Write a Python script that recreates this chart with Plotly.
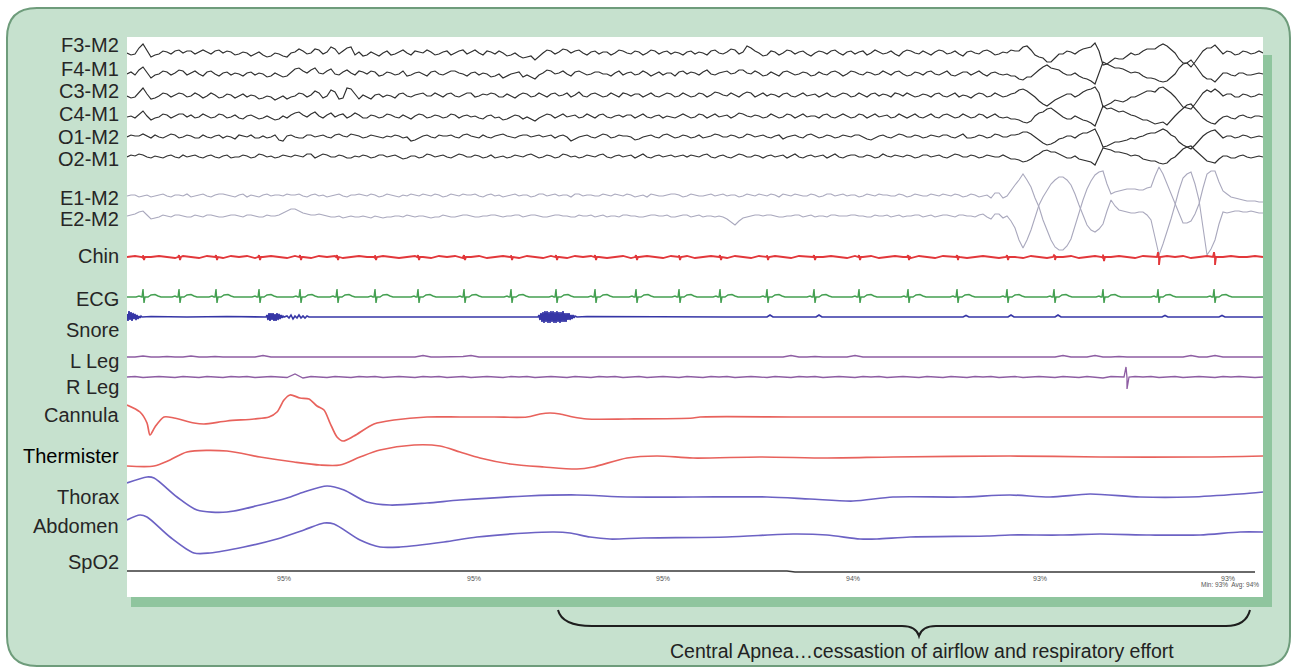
import plotly.graph_objects as go

# ======================= DATA =======================
# digitised traces: deflection in px units (positive = upward)
# main samples every 8 time units, "mid" samples halfway between them
GRID_STEP = 8
N_GRID = 143
grid_t = [i * GRID_STEP for i in range(N_GRID)]

eeg_F3 = [0, -1, 9, -4, -1, 1, 2, 0, 2, 1,
          1, 2, 0, 1, -1, 0, -1, -2, -3, -1,
          -4, 1, 2, 0, 3, 1, 4, 2, 6, 1,
          -2, -1, 0, -2, 1, 0, 2, 0, 1, -1,
          2, 0, 3, 1, 0, 2, -1, 0, -2, -3,
          -4, -7, 0, 2, 1, 3, 2, 0, 1, -1,
          1, 0, 2, -1, 1, 0, 2, 1, -1, 0,
          1, -1, 0, 2, 0, 1, 3, 1, 5, 0,
          -2, 1, 0, 2, 1, -1, 0, 1, 2, 0,
          1, -1, 2, 0, 1, 0, -1, 1, 2, -1,
          0, 1, 2, 0, -1, 1, 0, 2, 1, -1,
          0, 2, 6, 3, -4, -9, -5, -1, 1, 2, 5, 10, -12, -8, -6, -3, -2, 2, 4, 7, 7, 0,
          -10, -14, -3, 5, 8, -1, 1, -1, 1, 0, 0]
eeg_F3_mid = [-2, 5, 3, -2, 2, -1, 3, 2, -1, 3,
              -1, 3, 2, -2, 1, -3, 1, -4, 0, -3,
              0, 4, -1, 4, -1, 6, -1, 5, -2, -3,
              1, -3, 2, -1, 3, -2, 1, 3, -2, 1,
              -2, 2, -1, 3, -2, 1, 2, -3, 0, -5,
              -3, -3, 3, -1, 4, 0, 3, -2, 2, 1,
              -2, 3, 0, 2, -2, 3, -1, 2, 1, -2,
              2, 1, -2, 3, -1, 4, -1, 7, 2, -3,
              2, -2, 3, -1, 2, -3, 2, -1, 3, -2,
              2, 1, -2, 3, -1, 2, -3, 3, 0, 2,
              -2, 3, -1, 2, -3, 2, -1, 3, -2, 1,
              3, 2, 7, -2, -5, -9, -1, 2, -1, 4, 6, 2, -11, -5, -6, 0, -1, 4, 4, 9, 3, -6,
              -10, -9, 2, 5, 3, 2, -2, 2, -1, 2]
eeg_F4 = [0, -1, 7, -4, 0, 2, 1, 3, 1, 0,
          2, 0, 1, -1, 0, 1, -1, 0, -2, -1,
          -2, 5, 3, 4, 1, 3, 0, 2, 1, 3,
          0, 2, -1, 1, 0, -2, 1, 0, 2, 0,
          1, 3, 0, 1, -1, 0, -2, -4, 0, 2,
          -1, -5, 1, 3, 1, 0, 2, 1, 0, 2,
          0, 1, -1, 2, 0, 1, 0, -1, 1, 2,
          0, 1, 2, 0, 1, 3, 1, 4, 0, 1,
          -1, 0, 2, 1, 0, 1, -1, 0, 2, 1,
          0, 2, -1, 1, 0, 1, 2, 0, -1, 1,
          2, 0, 1, -1, 0, 2, 1, 0, 1, 0,
          0, -2, -6, -3, 4, 9, 5, 1, -1, -2, -5, -10, 12, 8, 6, 3, 2, -2, -4, -7, -7, 0,
          10, 14, 3, -5, -8, 1, -1, 1, -1, 0, 0]
eeg_F4_mid = [2, 4, 2, -1, 3, -1, 4, -1, 3, -2,
              3, -2, 2, 1, -2, 2, 1, -3, 1, -3,
              2, 6, 1, 6, 0, 5, -1, 4, -1, 2,
              3, -2, 2, -1, 3, -1, 2, -2, 3, -1,
              3, 1, -2, 2, 1, -3, 0, -2, 1, -3,
              -3, -1, 4, 0, 3, -2, 3, -1, 2, 0,
              -2, 3, 1, -1, 3, -2, 2, 1, -2, 3,
              2, -1, 4, -1, 2, 0, 4, 1, 3, -2,
              2, -2, 3, -1, 2, -2, 2, -1, 3, -2,
              3, 0, 2, -1, 3, -1, 3, -2, 2, -1,
              3, -1, 3, -2, 2, -1, 3, -2, 2, -1,
              -2, -5, -3, 1, 7, 6, 4, -1, 1, -4, -7, 1, 10, 6, 5, 1, 1, -4, -5, -8, -3, 6,
              11, 9, -2, -5, -4, 1, -2, 1, -1, 1]
eeg_C3 = [0, -1, 8, -3, 0, 2, 1, 2, 0, 1,
          0, 1, -1, 1, 0, -1, 0, -2, -1, -2,
          -3, 0, 2, 1, 3, 0, 4, -2, 7, -3,
          -1, 1, -1, 0, 2, 0, 1, 3, 0, 1,
          2, 0, 1, 3, 0, 1, 2, -1, 0, 1,
          2, 0, 1, 2, 0, 3, 1, 0, 2, 1,
          0, 1, 3, 0, 2, 1, 0, 1, 2, 0,
          1, 0, 2, 1, 3, 0, 1, 2, 3, 1,
          0, 1, 2, 0, 1, 0, 2, 1, 0, 1,
          2, 0, 1, 2, 0, 1, 3, 0, 1, 0,
          1, 2, 0, 1, -1, 0, 1, 2, 0, 1,
          0, 3, 7, 2, -5, -10, -4, 0, 2, 1, 6, 9, -11, -7, -5, -4, -1, 3, 5, 8, 6, -1,
          -11, -13, -2, 6, 7, 0, 2, -1, 1, 0, 1]
eeg_C3_mid = [-2, 4, 2, -2, 3, -1, 3, -1, 3, -2,
              3, -2, 2, -2, 2, 1, -3, 0, -4, 0,
              -1, 3, -1, 5, -2, 6, -3, 8, 2, 1,
              -3, 2, 1, -2, 3, -1, 2, 0, 3, -1,
              3, -1, 3, -1, 2, 3, -1, 2, -2, 3,
              -1, 3, -1, 3, 1, -1, 4, -1, 3, -1,
              3, -1, 2, 2, -1, 3, -1, 3, -1, 3,
              -1, 3, -1, 4, 1, 3, -1, 4, -1, 3,
              2, -1, 3, -1, 3, 1, -1, 3, -1, 3,
              -1, 3, -1, 3, 2, -1, 2, 3, -1, 2,
              -1, 3, -1, 3, 1, -2, 3, -1, 3, -1,
              2, 6, 5, -1, -8, -7, -2, 2, -1, 4, 7, 3, -9, -4, -6, -1, 1, 5, 4, 9, 3, -6,
              -12, -8, 3, 4, 4, 2, -1, 2, -1, 2]
eeg_C4 = [0, -1, 6, -3, 0, 2, 1, 3, 2, 0,
          1, 0, 2, 0, -1, 1, 0, -1, -1, -2,
          -1, 4, 2, 3, 1, 2, 0, 3, 1, 2,
          -1, 1, 0, 2, -1, 0, 1, 2, 0, 1,
          0, 2, 1, 0, -1, 1, -1, -3, 0, 1,
          0, -4, 1, 2, 1, 0, 2, 0, 1, 2,
          0, 1, 0, 2, 1, 0, 1, -1, 0, 1,
          1, 0, 2, 1, 0, 2, 1, 3, 0, 1,
          0, 1, 0, 2, 1, 0, 1, 2, 0, 1,
          1, 0, 2, 1, 0, 2, 0, 1, 1, 0,
          1, 0, 2, 1, 0, 1, 0, 2, 1, 0,
          0, -2, -5, -4, 4, 8, 6, 0, -2, -1, -4, -9, 11, 9, 5, 4, 1, -3, -5, -6, -8, 1,
          9, 13, 4, -4, -7, 0, -1, 1, 0, 1, 0]
eeg_C4_mid = [1, 3, 1, -1, 3, -1, 3, 0, -1, 3,
              -1, 3, -1, 2, -2, 2, -2, 1, -3, 1,
              2, 5, 0, 5, -1, 4, 2, -1, 4, -1,
              2, -1, 3, 0, 2, -2, 3, -1, 2, -1,
              3, -1, 2, 1, -2, 2, 0, -2, 2, -2,
              -2, -1, 3, -1, 3, 1, -1, 3, -1, 3,
              -1, 2, 2, -1, 3, -1, 2, 1, -1, 3,
              -1, 3, -1, 3, 1, -1, 4, 1, 2, -1,
              3, -1, 3, -1, 3, 1, -1, 3, -1, 3,
              -1, 3, -1, 3, 1, -1, 3, -1, 3, -1,
              3, -1, 3, -1, 3, -1, 3, -1, 3, -1,
              -2, -3, -6, 1, 5, 9, 3, -2, 1, -3, -6, 2, 8, 7, 6, 2, -1, -3, -7, -5, -3, 5,
              12, 9, -1, -6, -3, 1, -2, 2, -1, 1]
eeg_O1 = [0, 1, 3, -1, 0, 1, 2, 0, 1, -1,
          0, 1, -1, 0, 2, 0, -1, 1, 0, -3,
          1, 0, -1, 2, 1, 0, 2, 1, 3, 1,
          0, 1, -1, 0, 1, 0, -3, 1, 0, 2,
          1, 0, 2, 1, -1, 0, 1, 3, 0, 1,
          2, 1, 0, 2, 1, 0, -2, 1, 0, 1,
          2, 0, 1, 0, -2, 1, 0, 2, 1, 0,
          1, 0, -1, 1, 2, 0, 1, 0, 2, 1,
          0, 1, -2, 1, 0, 2, 1, 0, 1, 0,
          1, 2, 0, -3, 1, 0, 1, 2, 0, 1,
          0, 1, 2, 0, 1, -1, 0, 1, 0, 2,
          0, 2, 5, 3, -3, -8, -5, -1, 1, 2, 4, 8, -10, -7, -5, -3, -2, 1, 4, 6, 6, 0,
          -8, -12, -3, 4, 7, -1, 1, 0, 1, 0, 0]
eeg_O1_mid = [2, 1, 1, 2, -1, 3, -1, 2, -1, 2,
              -1, 2, 1, -2, 1, 2, -1, -1, 2, -4,
              2, -1, 2, 0, 2, -1, 3, 0, 2, -1,
              2, 0, 1, 2, -1, -4, -1, 2, -1, 1,
              2, -1, 3, 0, 2, -1, 2, 1, -1, 2,
              0, 2, 1, -1, 2, -4, 0, 2, -1, 3,
              -1, 2, 1, -3, 0, 2, -1, 3, -1, 2,
              -1, 2, 0, 3, 0, 2, -1, 3, 0, 2,
              -1, 2, 0, 2, -1, 3, -1, 2, -1, 2,
              0, 2, -2, -1, 2, -1, 3, 0, 2, -1,
              2, 0, 2, -1, 3, -1, 2, -1, 3, 0,
              2, 3, 5, 0, -6, -7, -2, 1, -1, 4, 6, 0, -9, -5, -4, -1, 0, 3, 4, 8, 2, -5,
              -10, -8, 1, 6, 3, 1, -1, 2, -1, 1]
eeg_O2 = [0, 1, 2, -1, 0, 1, 0, 2, 1, 0,
          1, 0, 1, -1, 0, 1, 0, 2, 1, 0,
          1, 2, 0, 3, 1, 2, 0, 1, -1, 0,
          1, 0, 2, 1, 0, -1, 1, 0, 2, 1,
          0, 1, 2, 0, 1, 0, -1, 1, 0, 1,
          2, 1, 0, 1, 0, 2, 1, 0, 1, 2,
          0, 1, 0, 2, 1, 0, 1, 0, 2, 1,
          0, 1, 2, 0, 1, 0, 1, 2, 0, 1,
          1, 0, 2, 1, 0, 1, 0, 2, 1, 0,
          1, 2, 0, 1, 0, 1, 2, 0, 1, 0,
          2, 1, 0, 1, 2, 0, 1, 0, 1, 0,
          0, -2, -5, -2, 3, 7, 5, 1, -1, -2, -4, -8, 9, 7, 5, 3, 2, -2, -4, -6, -6, 0,
          8, 11, 3, -4, -6, 1, -1, 1, 0, 0, 0]
eeg_O2_mid = [2, 3, 0, 1, -1, 2, -1, 0, 2, -1,
              2, -1, 2, 0, 2, -1, 3, 0, -1, 2,
              0, 1, 3, -1, 3, 0, 2, -1, 1, 2,
              -1, 2, 0, 2, -2, 1, -1, 3, 0, 2,
              -1, 3, 0, 2, -1, 2, 0, -1, 2, 0,
              3, -1, 2, -1, 3, 0, -1, 2, 0, 3,
              -1, 2, 1, -1, 3, -1, 2, 1, 0, 2,
              2, 0, 3, -1, 2, -1, 3, 0, 2, -1,
              2, 1, -1, 3, -1, 2, 1, -1, 3, -1,
              2, 0, 2, -1, 3, 0, 1, 2, -1, 2,
              0, 2, -1, 3, 0, 2, -1, 2, 0, 2,
              -2, -3, -4, 1, 6, 5, 3, -1, 1, -3, -5, 1, 8, 5, 4, 1, 1, -3, -4, -7, -2, 4,
              10, 7, -1, -5, -2, 1, -1, 2, -1, 1]

eog_E1 = [0, 1, 0, -1, 1, 0, 1, 0, -1, 1,
          0, 1, 2, 0, 1, -1, 0, 1, 0, 1,
          2, 1, 0, 1, 0, -1, 1, 0, 1, 2,
          0, 1, 0, 1, -1, 0, 1, 2, 0, 1,
          0, 1, 2, 1, 0, 1, 0, -1, 1, 0,
          1, 0, 2, 1, 0, 1, 2, 0, 1, 0,
          1, 2, 0, 1, 0, -1, 1, 0, 2, 1,
          0, 1, 0, 2, 1, 0, 1, 0, 1, 2,
          0, 1, 2, 0, 1, 0, 1, 0, 2, 1,
          0, 1, 0, 1, 2, 1, 0, 1, 0, 1,
          0, 1, 2, 0, 1, 0, 1, 0, -2, 3,
          0, 11, 22, 9, -11, -35, -51, -54, -43, -15, 7, 21, 25, 2, 5, 7, 7, 6, 9, 29, 12,
          -8, -27, -25, -8, 22, 25, 5, -1, -3, -5, -5, -6]
eog_E1_mid = [1, -1, 1, 0, 2, -1, 1, 2, 0, 2,
              -1, 2, 1, -1, 2, 1, -1, 2, 1, 0,
              1, 2, -1, 2, 1, 0, 2, -1, 1, 1,
              2, -1, 2, 0, 1, 2, 0, 1, 2, -1,
              2, 0, 1, 2, -1, 2, 1, 0, 2, 1,
              -1, 2, 0, 2, 1, -1, 2, 1, 0, 2,
              0, 1, 2, -1, 1, 2, 0, 1, 2, -1,
              2, 0, 1, 0, 2, 1, -1, 2, 0, 1,
              2, -1, 1, 2, 0, 2, -1, 2, 0, 2,
              1, -1, 2, 0, 1, 0, 2, -1, 2, 0,
              2, 0, 1, 2, -1, 2, -1, 1, 3, -2,
              6, 16, 16, -2, -24, -44, -54, -50, -30, -4, 15, 24, 12, 4, 6, 7, 6, 8, 20, 22, 2,
              -18, -27, -18, 8, 25, 14, 2, -2, -4, -5, -6]
eog_E2 = [0, 2, 5, -3, -1, 0, 1, 0, -1, 0,
          1, 0, -1, 1, 0, 1, 0, -1, 0, 1,
          5, 7, 3, 1, 2, 0, -1, -2, 0, -1,
          -1, 0, -2, -1, 0, 1, -1, 0, -2, -1,
          0, -1, 1, 0, -1, 0, 1, -1, 0, 1,
          0, 1, -1, 0, 1, 0, -1, 0, 1, 0,
          -1, 0, 1, 0, -1, 0, 1, 0, -1, 0,
          1, 0, -1, 0, 0, -3, -9, -2, 0, 1,
          1, 0, -1, 0, 1, 0, -1, 0, 1, 0,
          0, 1, 0, -1, 0, 1, 0, -1, 0, 1,
          0, -1, 1, 0, 1, 0, -1, 2, -3, 2,
          0, -12, -32, -14, 11, 26, 36, 39, 31, 11, -9, -16, -8, 16, 6, 4, 3, 4, -4, -39, -16,
          11, 38, 44, 16, -39, -24, 4, 4, 5, 4, 4, 3]
eog_E2_mid = [1, 4, 1, -2, 1, -1, 1, -1, 1, -1,
              1, -1, 0, 1, -1, 1, -1, 1, 0, 3,
              7, 5, 2, 1, 1, -1, 0, -1, -1, 0,
              -2, -1, -1, 0, -1, 0, 0, -1, -1, 1,
              -1, 0, 1, -1, 0, 1, 0, 0, 1, -1,
              1, 0, -1, 1, 0, -1, 1, 0, -1, 1,
              0, -1, 1, 0, -1, 1, 0, 1, -1, 1,
              -1, 1, 0, -1, -1, -6, -5, -1, 1, 0,
              1, -1, 0, 1, -1, 1, 0, -1, 1, 0,
              1, 0, -1, 1, 0, -1, 1, 0, 1, -1,
              1, 0, 1, -1, 1, 0, 1, -1, 2, -2,
              -5, -24, -24, -2, 19, 32, 39, 36, 22, 1, -14, -13, 5, 10, 5, 3, 4, 1, -22, -28, -3,
              26, 42, 32, -12, -33, -8, 3, 5, 4, 5, 3]

emg_chin = [0, 1, -1, 0, 1, 0, -1, 1, 0, -1,
            1, 0, -1, 1, 0, 1, -1, 0, 1, 0,
            -1, 1, 0, -1, 1, 0, 1, -1, 0, 1,
            0, -1, 1, 0, -1, 0, 1, 0, -1, 1,
            0, 1, -1, 0, 1, -1, 0, 1, 0, -1,
            1, 0, -1, 1, 0, -1, 1, 0, 1, 0,
            -1, 0, 1, -1, 0, 1, 0, -1, 1, 0,
            1, -1, 0, 1, 0, -1, 1, 0, -1, 1,
            0, 1, 0, -1, 1, 0, -1, 0, 1, 0,
            -1, 1, 0, 1, -1, 0, 1, 0, -1, 1,
            0, -1, 1, 0, 1, -1, 0, 1, 0, -1,
            1, 0, -1, 1, 0, -1, 1, 0, 1, -1,
            0, 1, -1, 0, 1, 0, -1, 1, 0, -1,
            1, 0, 1, -1, 0, 1, -1, 0, 1, 0,
            0, 1, 0]

leg_L = [0, 0, 1, 0, 0, 0.5, 0, 0, 1, 0,
         0, 0.5, 0, 0, 0, 0, 0, 1.5, 0, 0,
         0, 0.5, 0, 0, 0, 0, 0.5, 0, 0, 0,
         0, 0, 0, 0.5, 0, 0, 0, 1.5, 0, 0,
         0, 0, 0.5, 1.5, 0, 0, 0, 0, 0.5, 0,
         0, 0, 0, 0, 0.5, 0, 0, 0, 0, 0,
         0.5, 0, 0, 0, 0, 0, 0.5, 0, 0, 0,
         0, 0, 0, 0.5, 0, 0, 0, 0, 0, 0.5,
         0, 0, 0, 1.5, 0, 0, 0.5, 0, 0, 0,
         0, 1.5, 0, 0, 0, 0.5, 0, 0, 0, 0,
         0.5, 0, 0, 0, 0, 0, 0.5, 0, 0, 0,
         0, 0, 0.5, 0, 0, 0, 0, 1.5, 0, 0,
         0, 1.5, 0, 0, 0.5, 0, 0, 0, 0, 0,
         0, 0, 0, 1.5, 0, 0, 1.5, 0, 0, 0.5,
         0, 0, 0]
leg_R = [0, 0.5, -0.5, 0, 0.5, 0, -0.5, 0.5, 0, -0.5,
         0.5, 0, -0.5, 0.5, 0, 0.5, -0.5, 0, 0.5, 0,
         -0.5, 3, -1, 0.5, 0, -0.5, 0.5, 0, -0.5, 0.5,
         0, 0.5, -0.5, 0, 0.5, 0, -0.5, 0.5, 0, 0.5,
         -0.5, 0, 0.5, -0.5, 0, 0.5, 0, -0.5, 0.5, 0,
         0.5, -0.5, 0, 0.5, 0, -0.5, 0.5, 0, -0.5, 0.5,
         0, 0.5, -0.5, 0, 0.5, -0.5, 0, 0.5, 0, -0.5,
         0.5, 0, -0.5, 0.5, 0, 0.5, -0.5, 0, 0.5, 0,
         -0.5, 0.5, 0, -0.5, 0.5, 0, 0.5, -0.5, 0, 0.5,
         0, -0.5, 0.5, 0, 0.5, -0.5, 0, 0.5, 0, -0.5,
         0.5, 0, -0.5, 0.5, 0, -0.5, 0.5, 0, 0.5, -0.5,
         0, 0.5, -0.5, 0, 0.5, 0, -0.5, 0.5, 0, -0.5,
         0.5, 0, -1, 0.5, 0, -0.5, 0.5, 0, 0.5, -0.5,
         0, 0.5, -0.5, 0, 0.5, 0, -0.5, 0.5, 0, 0.5,
         0, -0.5, 0]
leg_R_spike_t = [997, 999, 1000, 1002]
leg_R_spike_v = [0, 10, -12, 0]

# ECG: R-peak times and the beat shape (offset, deflection)
ecg_beats = [16, 52, 89, 132, 173, 210, 248, 291, 337, 384, 429, 468, 509,
             552, 593, 640, 687, 732, 781, 830, 880, 927, 976, 1031, 1087]
ecg_beat_dt = [-7, -4, -2, -1, 0, 1, 2, 5, 8, 12, 15, 18]
ecg_beat_v = [0, 1, 0, 0, 8, -6, 0, 0, 2, 2.5, 1, 0]
chin_artifact_amp = [3, 3, 3, 3, 3, 3, 3, 3, 3, 3, 3, 3, 3,
                     3, 3, 3, 3, 3, 3, 3, 3, 3, 4, 8, 8]

# Snore: bursts (start, spacing, values), small blips, quiet samples
snore_bursts = [
    (0, 1, [3, -4, 6, -3, 5, -4, 4, -2, 3, -3, 2, -2, 1, -1, 1, 0]),
    (139, 1, [0, 2, -3, 4, -4, 4, -3, 4, -4, 3, -4, 4, -3, 3, -2, 2, -1, 1, 0]),
    (160, 2, [1, -1, 2, -2, 1, -1, 2, -1, 1, -1, 1, 0, 0, 0]),
    (411, 1, [0, 2, -3, 4, -5, 5, -6, 6, -5, 6, -6, 5, -6, 6, -5, 6, -6, 5, -6, 6,
              -5, 5, -6, 5, -5, 6, -5, 4, -5, 4, -3, 4, -3, 2, -2, 2, -1, 1, 0, 0]),
]
snore_blip_t = [643, 692, 839, 884, 931, 1038, 1095]
snore_blip_h = [2, 2, 1.5, 2, 2, 1.5, 1.5]
snore_quiet_t = [24, 60, 100, 130, 200, 260, 320, 380, 405, 460, 520, 600, 760, 980, 1136]
snore_quiet_v = [0.5, 0, 0.5, 0, 0, 0.5, 0, 0, 0, 0.5, 0, 0, 0, 0, 0]

# Respiratory channels (time, deflection)
cannula_t = [0, 13, 20, 23, 28, 37, 47, 67, 77, 100, 127, 142, 150, 157, 163, 173, 182, 190, 197, 203,
             210, 216, 227, 247, 267, 300, 333, 367, 400, 413, 423, 433, 446, 460, 500, 566, 573, 673,
             773, 873, 973, 1073, 1136]
cannula_v = [12, 5, -6, -18, -10, 0, -1, -6, -7, -4, -2, 0, 5, 17, 22, 19, 18, 11, 7, -6,
             -20, -24, -19, -7, -3, 0, 0, 0, 0, 3, 4, 3, 0, -2, -2, -1, 0, 0,
             0, 0, 0, 0, 0]
therm_t = [0, 27, 43, 60, 100, 133, 167, 193, 213, 233, 253, 287, 313, 333, 353, 383, 417, 450, 466,
           500, 530, 566, 633, 700, 766, 883, 973, 1073, 1136]
therm_v = [-8, -8, -2, 6, 7, 1, -4, -7, -7, 1, 8, 13, 12, 6, 0, -6, -9, -11, -9,
           0, 2, 0, 1, 0, 1, 2, 1, 1, 2]
thorax_t = [0, 20, 27, 50, 70, 100, 133, 160, 177, 200, 217, 240, 263, 300, 333, 400, 450, 500, 566,
            640, 683, 726, 766, 833, 883, 923, 963, 1013, 1063, 1113, 1136]
thorax_v = [14, 20, 19, 0, -13, -15, -8, -1, 5, 11, 7, -5, -8, -6, -3, 1, 2, 0, 0,
            0, -2, -4, 0, 0, 2, 0, 3, 0, 0, 3, 5]
abdomen_t = [0, 13, 20, 43, 67, 83, 117, 150, 177, 197, 207, 233, 253, 273, 317, 350, 400, 427, 443,
             463, 483, 516, 600, 666, 700, 733, 750, 783, 860, 883, 933, 973, 1023, 1073, 1113, 1136]
abdomen_v = [15, 20, 18, -2, -18, -18, -12, -4, 5, 12, 11, -5, -12, -12, -7, -2, 2, 3, 2,
             -2, -4, -3, -2, 1, 0, -4, -4, -2, -1, 0, 0, 1, 0, 0, 3, 3]

spo2_line_t = [0, 660, 668, 1128]
spo2_line_v = [0, 0, -1, -1]
spo2_read_t = [157, 347, 536, 726, 913, 1101]
spo2_read = ["95%", "95%", "95%", "94%", "93%", "93%"]
spo2_summary = "Min: 93%  Avg: 94%"

channel_names = ["F3-M2", "F4-M1", "C3-M2", "C4-M1", "O1-M2", "O2-M1", "E1-M2", "E2-M2", "Chin",
                 "ECG", "Snore", "L Leg", "R Leg", "Cannula", "Thermister", "Thorax", "Abdomen", "SpO2"]

annotation_text = "Central Apnea…cessastion of airflow and respiratory effort"

# ======================= LAYOUT (px) =======================
W, H = 1293, 669
PL, PR, PT, PB = 127, 1263, 37, 597

baseline = {"F3-M2": 53, "F4-M1": 74, "C3-M2": 96, "C4-M1": 117, "O1-M2": 137, "O2-M1": 157,
            "E1-M2": 196, "E2-M2": 216, "Chin": 257, "ECG": 297, "Snore": 317, "L Leg": 357,
            "R Leg": 377, "Cannula": 417, "Thermister": 458, "Thorax": 497, "Abdomen": 535, "SpO2": 571}
label_y = [45, 68.5, 91, 114, 137, 159, 197.5, 219.5, 256, 299, 329.5, 360.5, 386.5, 415.5, 456,
           497, 526, 562]

C_EEG = "#2e2e2e"
C_EOG = "#a9a8bd"
C_CHIN = "#e2373a"
C_ECG = "#45a052"
C_SNORE = "#3636a6"
C_LEG = "#8e5ea3"
C_FLOW = "#e8625c"
C_EFF = "#6c62c4"


def px_x(px):
    return (px - PL) / (PR - PL)


def px_y(py):
    return (PB - py) / (PB - PT)


fig = go.Figure()


def add(t, v, name, color, width, shape="linear"):
    b = baseline[name]
    fig.add_trace(go.Scatter(x=t, y=[b - d for d in v], mode="lines",
                             line=dict(color=color, width=width, shape=shape, smoothing=0.8),
                             hoverinfo="skip", showlegend=False))


def merge(pairs):
    pairs = sorted(pairs, key=lambda p: p[0])
    return [p[0] for p in pairs], [p[1] for p in pairs]


def interleave(main, mid):
    pts = list(zip(grid_t, main))
    pts += [(t + GRID_STEP / 2, v) for t, v in zip(grid_t, mid)]
    return merge(pts)


# EOG first (behind EEG)
add(*interleave(eog_E1, eog_E1_mid), "E1-M2", C_EOG, 1.1)
add(*interleave(eog_E2, eog_E2_mid), "E2-M2", C_EOG, 1.1)

for nm, arr, mid in [("F3-M2", eeg_F3, eeg_F3_mid), ("F4-M1", eeg_F4, eeg_F4_mid),
                     ("C3-M2", eeg_C3, eeg_C3_mid), ("C4-M1", eeg_C4, eeg_C4_mid),
                     ("O1-M2", eeg_O1, eeg_O1_mid), ("O2-M1", eeg_O2, eeg_O2_mid)]:
    add(*interleave(arr, mid), nm, C_EEG, 1.15)

# Chin with ECG artefacts
chin_pts = list(zip(grid_t, emg_chin))
for bt, a in zip(ecg_beats, chin_artifact_amp):
    for dt, k in zip([-1, 0, 1, 2], [0, 0.6, -1, 0]):
        chin_pts.append((bt + dt + 0.01, a * k))
add(*merge(chin_pts), "Chin", C_CHIN, 1.8)

# ECG
et, ev = [0], [0]
for bt in ecg_beats:
    for dt, dv in zip(ecg_beat_dt, ecg_beat_v):
        et.append(bt + dt)
        ev.append(dv)
et.append(1136)
ev.append(0)
add(et, ev, "ECG", C_ECG, 1.4)

# Snore
sn = list(zip(snore_quiet_t, snore_quiet_v))
for start, step, vals in snore_bursts:
    for k, val in enumerate(vals):
        sn.append((start + k * step, val))
for bt, h in zip(snore_blip_t, snore_blip_h):
    sn += [(bt - 3, 0), (bt, h), (bt + 3, 0)]
add(*merge(sn), "Snore", C_SNORE, 1.6)

# Legs
add(grid_t, leg_L, "L Leg", C_LEG, 1.3)
add(*merge(list(zip(grid_t, leg_R)) + [(t + 0.01, v) for t, v in zip(leg_R_spike_t, leg_R_spike_v)]),
    "R Leg", C_LEG, 1.3)

# Respiratory
add(cannula_t, cannula_v, "Cannula", C_FLOW, 1.7, "spline")
add(therm_t, therm_v, "Thermister", C_FLOW, 1.7, "spline")
add(thorax_t, thorax_v, "Thorax", C_EFF, 1.7, "spline")
add(abdomen_t, abdomen_v, "Abdomen", C_EFF, 1.7, "spline")
add(spo2_line_t, spo2_line_v, "SpO2", "#3a3a3a", 1.6)


# ---------- decorations ----------
def P2(x, y):
    return f"{px_x(x):.5f},{px_y(y):.5f}"


def rrect(x0, y0, x1, y1, r):
    return (f"M {P2(x0 + r, y0)} L {P2(x1 - r, y0)} Q {P2(x1, y0)} {P2(x1, y0 + r)} "
            f"L {P2(x1, y1 - r)} Q {P2(x1, y1)} {P2(x1 - r, y1)} L {P2(x0 + r, y1)} "
            f"Q {P2(x0, y1)} {P2(x0, y1 - r)} L {P2(x0, y0 + r)} Q {P2(x0, y0)} {P2(x0 + r, y0)} Z")


brace = (f"M {P2(558, 610)} Q {P2(562, 626)} {P2(592, 626)} L {P2(902, 626)} "
         f"Q {P2(916, 626)} {P2(919, 636)} Q {P2(922, 626)} {P2(936, 626)} "
         f"L {P2(1226, 626)} Q {P2(1246, 626)} {P2(1250, 610)}")

shapes = [
    dict(type="path", xref="paper", yref="paper", path=rrect(7, 8, 1290, 666, 30),
         fillcolor="#c6e1ce", line=dict(color="#6e9c7b", width=2), layer="below"),
    dict(type="rect", xref="paper", yref="paper", x0=px_x(131), x1=px_x(1272), y0=px_y(607), y1=px_y(55),
         fillcolor="#8fc59e", line=dict(width=0), layer="below"),
    dict(type="rect", xref="paper", yref="paper", x0=px_x(127), x1=px_x(1263), y0=px_y(597), y1=px_y(37),
         fillcolor="#ffffff", line=dict(width=0), layer="below"),
    dict(type="path", xref="paper", yref="paper", path=brace,
         line=dict(color="#1e1e1e", width=2), layer="above"),
]

FONT = "Liberation Sans, Arial, Helvetica, sans-serif"
annotations = []
for nm, yy in zip(channel_names, label_y):
    annotations.append(dict(x=px_x(121), y=px_y(yy), xref="paper", yref="paper", text=nm,
                            xanchor="right", yanchor="middle", showarrow=False,
                            font=dict(family=FONT, size=20,
                                      color="#000000" if nm == "Thermister" else "#262626")))
for tt, s in zip(spo2_read_t, spo2_read):
    annotations.append(dict(x=tt, y=578, xref="x", yref="y", text=s, showarrow=False,
                            xanchor="center", yanchor="middle",
                            font=dict(family=FONT, size=7, color="#555555")))
annotations.append(dict(x=px_x(1261), y=px_y(585), xref="paper", yref="paper", text=spo2_summary,
                        showarrow=False, xanchor="right", yanchor="middle",
                        font=dict(family=FONT, size=6.5, color="#555555")))
annotations.append(dict(x=px_x(922), y=px_y(651), xref="paper", yref="paper", text=annotation_text,
                        showarrow=False, xanchor="center", yanchor="middle",
                        font=dict(family=FONT, size=19.5, color="#222222")))

fig.update_layout(
    width=W, height=H, autosize=False,
    margin=dict(l=PL, r=W - PR, t=PT, b=H - PB, pad=0),
    paper_bgcolor="#ffffff", plot_bgcolor="rgba(0,0,0,0)",
    xaxis=dict(range=[0, PR - PL], visible=False, fixedrange=True),
    yaxis=dict(range=[PB, PT], visible=False, fixedrange=True),
    shapes=shapes, annotations=annotations, showlegend=False,
)

fig.write_html("out.html", config={"displayModeBar": False},
               post_script="document.body.style.margin='0';document.body.style.overflow='hidden';")
